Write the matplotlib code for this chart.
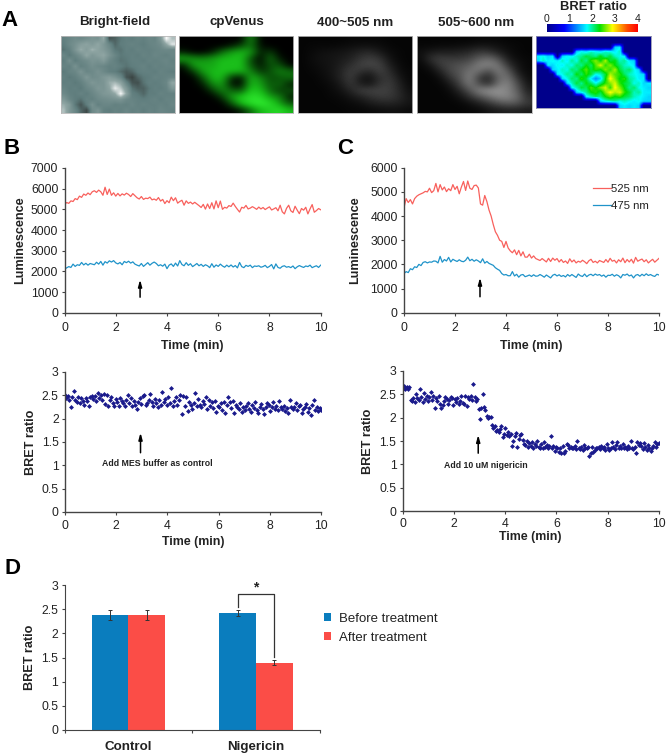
import numpy as np
import matplotlib
matplotlib.use("Agg")
import matplotlib.pyplot as plt
from matplotlib.colors import LinearSegmentedColormap

plt.rcParams['font.family'] = ['Liberation Sans', 'DejaVu Sans']
W, H = 669, 755

# ---------- panel titles ----------
image_titles = ["Bright-field", "cpVenus", "400~505 nm", "505~600 nm"]
colorbar_ticks = [0, 1, 2, 3, 4]

# ---------- coarse image readings (panel A) ----------
bright_field = [
 [.46,.50,.54,.52,.56,.60,.58,.74,.30,.34,.42,.46,.44,.48,.46,.50,.48,.62,.98,.80],
 [.44,.52,.58,.66,.70,.64,.72,.62,.50,.36,.44,.46,.48,.46,.44,.48,.50,.54,.72,.92],
 [.40,.46,.60,.74,.66,.76,.70,.64,.56,.42,.40,.46,.44,.48,.46,.46,.48,.50,.52,.50],
 [.50,.42,.50,.58,.72,.62,.68,.72,.60,.50,.42,.44,.46,.44,.48,.46,.50,.48,.46,.50],
 [.44,.56,.44,.50,.54,.60,.58,.64,.52,.46,.40,.42,.46,.46,.44,.48,.46,.48,.50,.46],
 [.48,.46,.58,.46,.50,.56,.52,.50,.46,.48,.44,.40,.44,.46,.48,.44,.48,.46,.48,.48],
 [.42,.48,.50,.60,.50,.52,.58,.52,.46,.44,.38,.32,.36,.44,.46,.46,.44,.48,.46,.44],
 [.46,.42,.46,.52,.62,.54,.56,.62,.66,.60,.50,.30,.24,.36,.42,.44,.48,.46,.48,.50],
 [.44,.46,.42,.46,.54,.62,.58,.60,.74,.78,.70,.48,.30,.28,.40,.46,.44,.46,.50,.72],
 [.48,.44,.46,.42,.50,.54,.62,.60,.70,.94,.82,.62,.40,.34,.34,.42,.46,.44,.48,.62],
 [.52,.46,.44,.48,.44,.50,.56,.62,.64,.72,.98,.70,.46,.42,.36,.44,.44,.48,.46,.46],
 [.62,.50,.44,.40,.48,.46,.52,.54,.56,.58,.60,.52,.48,.46,.44,.46,.48,.44,.48,.48],
 [.74,.64,.42,.30,.44,.58,.46,.50,.50,.46,.48,.46,.50,.46,.48,.46,.46,.48,.46,.50],
 [.80,.62,.50,.36,.26,.52,.60,.46,.44,.48,.46,.50,.46,.48,.44,.48,.46,.50,.48,.46],
]
venus_green = [
 [0,0,0,0,0,0,0,.55,0,0,0,0],
 [0,0,0,0,0,.08,.25,.45,.05,0,0,0],
 [.10,0,0,.10,.40,.60,.70,.60,.10,.22,0,0],
 [.65,.55,.50,.60,.70,.72,.75,.30,0,.42,.08,0],
 [.10,.62,.65,.62,.75,.75,.75,.30,.08,.30,.30,0],
 [0,.20,.62,.70,.75,.70,.70,.50,.18,.28,.50,.40],
 [0,0,.30,.70,.70,.15,.05,.70,.50,.28,.30,.40],
 [0,0,.10,.50,.60,.06,.03,.70,.62,.30,.40,.10],
 [0,0,0,.20,.50,.38,.30,.80,.72,.40,.20,.30],
 [0,0,0,0,.20,.60,.80,.92,.90,.60,.50,.10],
 [0,0,0,0,0,.30,.72,.92,1.0,.90,.60,.30],
 [0,0,0,0,0,0,.10,.40,.70,.82,.90,.70],
]
gray_400_505 = [
 [.02,.02,.02,.02,.02,.03,.03,.03,.03,.02,.02,.02],
 [.02,.03,.03,.03,.04,.05,.06,.06,.05,.03,.02,.02],
 [.02,.04,.06,.07,.08,.10,.14,.16,.10,.05,.03,.02],
 [.02,.05,.07,.08,.10,.13,.20,.24,.20,.08,.03,.02],
 [.02,.04,.06,.08,.12,.18,.25,.28,.26,.12,.05,.02],
 [.02,.03,.05,.08,.14,.24,.20,.14,.26,.18,.06,.03],
 [.02,.02,.04,.07,.14,.24,.09,.06,.18,.22,.10,.03],
 [.02,.02,.03,.05,.10,.22,.12,.08,.20,.24,.14,.04],
 [.02,.02,.02,.04,.07,.14,.24,.26,.26,.24,.16,.06],
 [.02,.02,.02,.03,.04,.08,.12,.18,.22,.22,.17,.08],
 [.02,.02,.02,.02,.03,.04,.06,.10,.13,.14,.12,.08],
 [.02,.02,.02,.02,.02,.03,.03,.04,.05,.06,.06,.04],
]
gray_505_600 = [
 [.02,.02,.02,.02,.02,.02,.03,.03,.03,.02,.02,.02],
 [.03,.03,.04,.04,.05,.06,.08,.08,.06,.04,.03,.02],
 [.06,.10,.12,.12,.13,.16,.22,.20,.12,.06,.03,.02],
 [.05,.20,.24,.22,.22,.26,.36,.42,.30,.10,.05,.03],
 [.03,.10,.24,.28,.32,.36,.50,.52,.46,.20,.08,.03],
 [.02,.04,.14,.28,.34,.46,.44,.28,.50,.36,.10,.04],
 [.02,.02,.06,.20,.32,.52,.22,.13,.40,.46,.20,.05],
 [.02,.02,.03,.10,.26,.48,.30,.18,.46,.52,.30,.08],
 [.02,.02,.02,.05,.15,.32,.52,.58,.58,.52,.36,.12],
 [.02,.02,.02,.03,.07,.18,.30,.42,.52,.52,.42,.18],
 [.02,.02,.02,.02,.03,.06,.12,.20,.30,.36,.32,.22],
 [.02,.02,.02,.02,.02,.03,.04,.08,.10,.12,.12,.10],
]
bret_map = [
 [0,0,0,0,0,0,0,0,0,0,0,0,0,0,0,0,0,0,0,0,0,0,0,0],
 [0,0,0,0,0,0,0,0,0,0,0,0,0,0,0,0,0,0,0,0,0,0,0,0],
 [0,0,0,0,0,0,0,0,0,0,0,0,0,0,0,0,1.6,1.7,0,0,0,0,0,0],
 [0,0,0,0,0,0,0,0,1.6,1.8,1.7,1.9,1.8,1.7,1.9,1.8,1.7,1.9,0,0,0,0,0,0],
 [1.7,1.8,1.6,1.7,0,1.6,1.8,1.7,1.9,2.0,2.2,2.1,2.0,2.3,2.0,2.2,1.9,1.8,1.7,0,0,0,0,0],
 [1.6,1.9,1.7,1.8,1.7,1.9,1.7,2.0,1.8,2.2,2.0,2.4,2.6,2.3,2.7,2.2,2.3,1.9,2.0,1.7,1.6,0,0,0],
 [0,0,1.7,1.6,1.8,1.7,1.9,1.8,2.1,2.0,2.3,2.1,2.5,2.8,2.4,2.6,2.3,2.1,1.9,1.8,1.7,0,0,0],
 [0,0,0,1.6,1.7,1.9,1.8,2.1,2.0,2.3,2.5,2.2,2.4,2.3,2.6,2.4,2.7,2.2,2.0,2.1,1.8,1.6,0,0],
 [0,0,0,0,1.7,1.8,2.0,1.9,2.3,2.1,2.4,2.2,1.8,1.9,2.2,2.7,2.5,2.4,2.1,1.9,1.8,1.7,1.6,0],
 [0,0,0,0,0,1.6,1.8,2.1,2.0,2.4,2.2,1.7,1.3,1.6,2.3,2.9,2.6,2.3,2.4,2.0,1.9,1.7,1.7,0],
 [0,0,0,0,0,0,1.6,1.9,2.2,2.0,2.3,2.1,1.8,2.1,2.4,2.6,2.8,2.4,2.2,2.1,1.8,1.9,1.6,1.7],
 [0,0,0,0,0,0,0,1.7,1.9,2.2,2.1,2.5,2.3,2.6,2.8,2.4,2.9,2.6,2.3,2.0,2.1,1.8,1.7,1.6],
 [0,0,0,0,0,0,0,0,1.6,1.8,2.0,2.3,2.4,2.2,2.6,2.9,2.7,2.8,2.4,2.2,1.9,2.0,1.7,1.7],
 [0,0,0,0,0,0,0,0,0,0,1.7,1.9,2.1,2.0,2.3,2.5,2.3,2.4,2.2,2.1,1.9,1.8,1.7,1.6],
 [0,0,0,0,0,0,0,0,0,0,0,0,0,1.6,1.8,1.9,2.0,1.8,1.9,1.8,1.7,1.8,1.6,1.6],
 [0,0,0,0,0,0,0,0,0,0,0,0,0,0,0,0,0,1.6,1.7,1.6,1.7,1.6,0,0],
]

# ---------- panel B, luminescence ----------
b_525 = [5230,5330,5290,5410,5380,5520,5470,5640,5580,5740,5680,5790,5710,5850,5900,5820,5930,5850,5680,6070,
 5720,5980,5680,5800,5640,5770,5650,5750,5690,5780,5720,5620,5760,5660,5560,5500,5620,5480,5540,5520,
 5590,5460,5500,5440,5570,5400,5480,5280,5420,5320,5590,5420,5560,5300,5380,5440,5200,5410,5290,5350,
 5260,5340,5260,5180,5090,5240,5010,5260,5040,5320,5020,5410,5080,5400,5000,5100,5060,5180,5140,5300,
 5140,5000,4870,5100,5060,5190,5020,5060,5130,5070,5000,5110,5020,5090,4990,5060,5120,4970,5020,5080,
 4930,5200,4880,4780,5050,5200,4930,4850,5150,4960,4790,5040,4960,5100,4780,5020,5230,4860,4940,5040,4980]
b_475 = [2100,2170,2230,2190,2350,2240,2320,2290,2430,2310,2390,2300,2380,2350,2320,2440,2350,2480,2300,2470,
 2400,2510,2450,2520,2410,2360,2430,2320,2480,2420,2490,2400,2460,2350,2300,2260,2380,2240,2330,2420,
 2300,2390,2450,2380,2270,2320,2250,2350,2130,2300,2360,2240,2400,2260,2520,2330,2270,2420,2290,2370,
 2230,2300,2380,2270,2340,2240,2320,2270,2180,2370,2200,2310,2240,2350,2260,2200,2300,2220,2310,2210,
 2280,2170,2430,2230,2180,2290,2240,2300,2180,2260,2240,2270,2200,2230,2290,2180,2240,2330,2120,2360,
 2190,2150,2240,2270,2200,2230,2180,2260,2130,2220,2280,2230,2190,2260,2230,2300,2180,2230,2270,2190,2300]

# ---------- panel C, luminescence ----------
c_525 = [4350,4720,4560,4680,4500,4720,4820,4880,4920,4960,5020,5000,5150,4970,5050,5350,5000,5300,5080,5200,
 5010,5130,5050,5300,5100,5230,4920,5200,5430,5060,5450,5150,5100,5260,5280,5160,4500,4450,4850,4600,
 4250,4000,3650,3350,3200,3000,2950,2700,2950,2680,2560,2480,2600,2400,2580,2350,2520,2300,2300,2420,
 2260,2350,2240,2200,2160,2240,2170,2100,2250,2120,2260,2170,2240,2100,2200,2080,2140,2040,2230,2100,
 2180,2060,2130,2090,2170,2110,2030,2150,2210,2080,2130,2060,2160,2120,2080,2200,2090,2250,2130,2170,
 2060,2190,2110,2260,2070,2200,2100,2210,2050,2290,2130,2180,2220,2110,2190,2060,2140,2210,2090,2170,2250]
c_475 = [1620,1700,1660,1820,1780,1900,1870,2000,1950,2080,2110,2060,2100,2090,2140,2130,2060,2330,2090,2200,
 2140,2290,2100,2210,2160,2120,2190,2130,2110,2170,2300,2150,2210,2130,2190,2140,2070,2230,2050,2120,
 2040,2000,1960,1860,1800,1750,1620,1560,1580,1530,1530,1700,1520,1590,1470,1560,1580,1490,1520,1560,
 1500,1570,1510,1520,1580,1530,1470,1560,1500,1440,1550,1590,1520,1570,1500,1540,1480,1580,1510,1580,
 1520,1460,1600,1530,1500,1600,1490,1560,1590,1530,1600,1550,1580,1510,1560,1470,1550,1540,1590,1510,
 1570,1530,1440,1580,1550,1600,1520,1560,1440,1550,1580,1510,1590,1530,1610,1540,1580,1530,1500,1590,1560]

# ---------- panels B and C, BRET ratio ----------
b_ratio = [2.50,2.44,2.48,2.40,2.24,2.46,2.60,2.41,2.36,2.47,2.33,2.44,2.38,2.30,2.44,2.37,2.28,2.46,2.48,2.42,
 2.49,2.38,2.55,2.44,2.50,2.39,2.53,2.32,2.50,2.28,2.40,2.47,2.33,2.27,2.42,2.36,2.28,2.44,2.38,2.34,
 2.27,2.40,2.50,2.33,2.44,2.28,2.38,2.30,2.21,2.36,2.45,2.32,2.48,2.50,2.30,2.34,2.40,2.52,2.36,2.28,
 2.42,2.33,2.24,2.40,2.30,2.58,2.36,2.43,2.30,2.46,2.33,2.65,2.28,2.37,2.46,2.30,2.40,2.50,2.09,2.48,
 2.28,2.46,2.17,2.36,2.30,2.20,2.34,2.55,2.28,2.42,2.30,2.24,2.37,2.31,2.47,2.20,2.40,2.28,2.35,2.22,
 2.38,2.14,2.28,2.24,2.33,2.18,2.36,2.12,2.30,2.47,2.35,2.22,2.38,2.12,2.30,2.24,2.20,2.33,2.15,2.24,
 2.18,2.27,2.33,2.20,2.14,2.30,2.22,2.36,2.18,2.12,2.26,2.32,2.20,2.10,2.24,2.34,2.30,2.16,2.26,2.36,
 2.20,2.28,2.18,2.38,2.24,2.20,2.28,2.16,2.22,2.12,2.40,2.25,2.20,2.26,2.34,2.18,2.28,2.30,2.12,2.20,
 2.24,2.32,2.14,2.22,2.08,2.30,2.40,2.18,2.26,2.16,2.22,2.18]
c_ratio = [2.60,2.68,2.62,2.66,2.60,2.65,2.38,2.36,2.42,2.34,2.50,2.42,2.38,2.60,2.44,2.33,2.52,2.40,2.46,2.36,
 2.44,2.55,2.38,2.46,2.20,2.42,2.36,2.46,2.30,2.20,2.26,2.36,2.44,2.40,2.30,2.38,2.44,2.42,2.26,2.40,2.34,2.42,
 2.30,2.36,2.46,2.32,2.28,2.47,2.25,2.43,2.40,2.46,2.38,2.71,2.44,2.36,2.40,2.18,1.98,2.20,2.50,2.22,
 2.17,2.04,2.00,2.02,2.01,1.84,1.77,1.82,1.72,1.74,1.70,1.76,1.81,1.58,1.66,1.78,1.62,1.70,1.60,1.66,
 1.40,1.50,1.60,1.68,1.38,1.54,1.62,1.65,1.52,1.44,1.42,1.50,1.38,1.46,1.40,1.48,1.36,1.44,1.40,1.50,
 1.38,1.34,1.44,1.36,1.48,1.38,1.42,1.36,1.40,1.60,1.34,1.40,1.28,1.38,1.34,1.26,1.36,1.24,1.40,1.25,
 1.28,1.44,1.42,1.35,1.38,1.34,1.36,1.40,1.32,1.50,1.36,1.32,1.38,1.30,1.42,1.36,1.34,1.38,1.18,1.24,
 1.38,1.26,1.30,1.36,1.34,1.38,1.32,1.40,1.35,1.38,1.30,1.44,1.34,1.30,1.36,1.48,1.38,1.32,1.42,1.48,
 1.36,1.40,1.34,1.44,1.36,1.38,1.32,1.40,1.34,1.50,1.36,1.32,1.38,1.24,1.48,1.42,1.46,1.40,1.32,1.46,
 1.38,1.30,1.42,1.36,1.28,1.34,1.40,1.48,1.38,1.44,1.46]

# ---------- panel D ----------
categories = ["Control", "Nigericin"]
before_mean = [2.38, 2.42]
after_mean = [2.38, 1.39]
before_err = [0.11, 0.06]
after_err = [0.11, 0.05]
series_names = ["Before treatment", "After treatment"]

RED = "#f8605c"
BLUE = "#1f93c9"
BAR_RED = "#fb4d47"
BAR_BLUE = "#0a7dbe"
NAVY = "#1a1a8c"
AX = "#444444"
TXT = "#222222"

fig = plt.figure(figsize=(W / 100, H / 100), dpi=100)

def px_axes(x0, x1, ytop, ybot, **kw):
    return fig.add_axes([x0 / W, 1 - ybot / H, (x1 - x0) / W, (ybot - ytop) / H], **kw)

def style(ax, ylim, yticks, ylabel, ylabel_x, xpad=2, xlabelpad=1):
    ax.set_xlim(0, 10)
    ax.set_ylim(*ylim)
    ax.set_yticks(yticks)
    ax.set_yticklabels([f"{v:g}" for v in yticks])
    ax.set_xticks(range(0, 11, 2))
    for s in ("top", "right"):
        ax.spines[s].set_visible(False)
    for s in ("left", "bottom"):
        ax.spines[s].set_color(AX)
        ax.spines[s].set_linewidth(1.0)
    ax.tick_params(length=2.5, width=0.8, color=AX, labelsize=8.8, labelcolor=TXT, pad=2)
    ax.tick_params(axis="x", pad=xpad)
    ax.set_xlabel("Time (min)", fontsize=8.9, fontweight="bold", color=TXT, labelpad=xlabelpad)
    ax.set_ylabel(ylabel, fontsize=9.1, fontweight="bold", color=TXT)
    ax.yaxis.set_label_coords(ylabel_x, 0.5)

def arrow(ax, x, y0, y1):
    ax.annotate("", xy=(x, y1), xytext=(x, y0),
                arrowprops=dict(arrowstyle="-|>,head_width=0.11,head_length=0.4", color="black",
                                lw=1.1, shrinkA=0, shrinkB=0))

# ---------- panel A ----------
bf_cmap = LinearSegmentedColormap.from_list("bf", ["#2a2a28", "#5f7d7d", "#8fa5a3", "#ffffff"])
green_cmap = LinearSegmentedColormap.from_list(
    "gr", [(0, "#000000"), (0.33, "#0a5a0a"), (0.7, "#18b818"), (1, "#30f030")])
bret_cmap = LinearSegmentedColormap.from_list(
    "bret", [(0, "#00008b"), (0.19, "#0000ff"), (0.44, "#00ffff"), (0.58, "#00e000"),
             (0.72, "#ffff00"), (0.88, "#ff5000"), (1, "#ff0000")])
image_boxes = [(61, 175), (179, 293), (298, 412), (417, 532)]
title_centers = [115, 237, 355, 476]
image_sets = [(bright_field, bf_cmap, 0.15, 1.0, "bilinear"), (venus_green, green_cmap, 0, 1, "bicubic"),
              (gray_400_505, "gray", 0, 1, "bicubic"), (gray_505_600, "gray", 0, 1, "bicubic")]
for (x0, x1), (img, cm, vmin, vmax, interp), title, tc in zip(image_boxes, image_sets, image_titles, title_centers):
    a = px_axes(x0, x1, 36, 113)
    a.imshow(img, cmap=cm, vmin=vmin, vmax=vmax, aspect="auto", interpolation=interp)
    a.set_xticks([]); a.set_yticks([])
    for s in a.spines.values():
        s.set_color("#b8b8b8"); s.set_linewidth(0.6)
    fig.text(tc / W, 1 - 22.5 / H, title, ha="center", va="center",
             fontsize=9.6, fontweight="bold", color=TXT)

a = px_axes(536, 651, 36, 108)
a.imshow(bret_map, cmap=bret_cmap, vmin=0, vmax=4, aspect="auto", interpolation="bilinear")
a.set_xticks([]); a.set_yticks([])
for s in a.spines.values():
    s.set_color("#9090b0"); s.set_linewidth(0.6)

cb = px_axes(546.7, 637.7, 24, 32)
cb.imshow([np.linspace(0, 4, 256)], cmap=bret_cmap, vmin=0, vmax=4, aspect="auto", extent=[0, 4, 0, 1])
cb.set_yticks([])
cb.set_xticks(colorbar_ticks)
cb.xaxis.tick_top()
cb.tick_params(length=0, labelsize=7.5, pad=0, labelcolor=TXT)
for s in cb.spines.values():
    s.set_visible(False)
fig.text(593 / W, 1 - 7.5 / H, "BRET ratio", ha="center", va="center", fontsize=9.4,
         fontweight="bold", color=TXT)

# ---------- panel B top ----------
ax = px_axes(64.5, 320.7, 168, 312.7)
style(ax, (0, 7000), list(range(0, 7001, 1000)), "Luminescence", -0.15, xpad=4, xlabelpad=4.6)
ax.plot(np.linspace(0, 10, len(b_525)), b_525, color=RED, lw=0.9)
ax.plot(np.linspace(0, 10, len(b_475)), b_475, color=BLUE, lw=0.9)
arrow(ax, 2.95, 750, 1600)

# ---------- panel C top ----------
ax = px_axes(404, 659, 167.7, 312.7)
style(ax, (0, 6000), list(range(0, 6001, 1000)), "Luminescence", -0.169, xpad=4, xlabelpad=4.6)
l1, = ax.plot(np.linspace(0, 10, len(c_525)), c_525, color=RED, lw=0.9, label="525 nm")
l2, = ax.plot(np.linspace(0, 10, len(c_475)), c_475, color=BLUE, lw=0.9, label="475 nm")
arrow(ax, 2.98, 660, 1450)
ax.legend(handles=[l1, l2], loc="upper left", bbox_to_anchor=(0.74, 0.885), frameon=False,
          fontsize=8.2, handlelength=1.6, handletextpad=0.05, labelspacing=0.55, borderaxespad=0,
          borderpad=0, labelcolor=TXT)

# ---------- panel B bottom ----------
ax = px_axes(65, 321, 372, 512)
style(ax, (0, 3), [0, 0.5, 1, 1.5, 2, 2.5, 3], "BRET ratio", -0.111, xpad=3.5, xlabelpad=3)
ax.plot(np.linspace(0, 10, len(b_ratio)), b_ratio, ls="none", marker="D", ms=2.5, color=NAVY, mew=0)
arrow(ax, 2.95, 1.27, 1.70)
ax.text(3.6, 1.03, "Add MES buffer as control", ha="center", va="center", fontsize=6.3,
        fontweight="bold", color=TXT)

# ---------- panel C bottom ----------
ax = px_axes(402.7, 658.7, 370.7, 511.3)
style(ax, (0, 3), [0, 0.5, 1, 1.5, 2, 2.5, 3], "BRET ratio", -0.112)
ax.plot(np.linspace(0, 10, len(c_ratio)), c_ratio, ls="none", marker="D", ms=2.5, color=NAVY, mew=0)
arrow(ax, 2.95, 1.24, 1.63)
ax.text(3.23, 0.98, "Add 10 uM nigericin", ha="center", va="center", fontsize=6.3,
        fontweight="bold", color=TXT)

# ---------- panel D ----------
ax = px_axes(64.5, 320, 585, 730)
xpos = np.array([0.5, 1.5])
bw = 0.287
ax.bar(xpos - bw / 2, before_mean, bw, color=BAR_BLUE, yerr=before_err, label=series_names[0],
       error_kw=dict(ecolor="#333333", elinewidth=0.7, capsize=1.3, capthick=0.7))
ax.bar(xpos + bw / 2, after_mean, bw, color=BAR_RED, yerr=after_err, label=series_names[1],
       error_kw=dict(ecolor="#333333", elinewidth=0.7, capsize=1.3, capthick=0.7))
ax.set_xlim(0, 2)
ax.set_ylim(0, 3)
ax.set_yticks([0, 0.5, 1, 1.5, 2, 2.5, 3])
ax.set_yticklabels(["0", "0.5", "1", "1.5", "2", "2.5", "3"])
ax.set_xticks([0, 1, 2])
ax.set_xticklabels([])
ax.set_xticks(xpos, minor=True)
ax.set_xticklabels(categories, minor=True, fontsize=9.6, fontweight="bold", color=TXT)
ax.tick_params(axis="x", which="minor", length=0, pad=8)
ax.tick_params(axis="x", which="major", length=2.5, width=0.8, color=AX)
ax.tick_params(axis="y", length=2.5, width=0.8, color=AX, labelsize=8.8, labelcolor=TXT, pad=2)
for s in ("top", "right"):
    ax.spines[s].set_visible(False)
for s in ("left", "bottom"):
    ax.spines[s].set_color(AX)
ax.set_ylabel("BRET ratio", fontsize=9.1, fontweight="bold", color=TXT)
ax.yaxis.set_label_coords(-0.111, 0.5)
ax.plot([1.5 - bw / 2, 1.5 - bw / 2, 1.5 + bw / 2, 1.5 + bw / 2], [2.55, 2.82, 2.82, 1.52],
        color="#333333", lw=0.9)
ax.text(1.5, 2.80, "*", ha="center", va="bottom", fontsize=10, fontweight="bold", color=TXT,
        linespacing=0.5)
ax.legend(loc="upper left", bbox_to_anchor=(1.016, 0.81), frameon=False, fontsize=9.5, handlelength=0.55,
          handleheight=0.55, handletextpad=0.55, labelspacing=0.55, borderaxespad=0, borderpad=0,
          labelcolor=TXT)

# ---------- panel letters ----------
for letter, px, py in [("A", 9, 20), ("B", 12, 149), ("C", 345, 149), ("D", 12, 569)]:
    fig.text(px / W, 1 - py / H, letter, ha="center", va="center", fontsize=16, fontweight="bold",
             color="black")

fig.savefig("out.png", dpi=100, facecolor="white")
